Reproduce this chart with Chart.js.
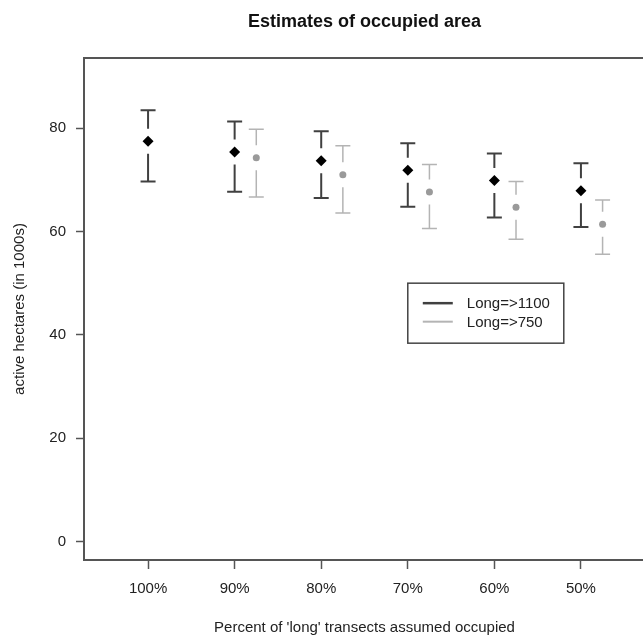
<!DOCTYPE html>
<html>
<head>
<meta charset="utf-8">
<script src="https://cdn.jsdelivr.net/npm/chart.js@4.4.1/dist/chart.umd.min.js"></script>
<style>
html,body{margin:0;padding:0;background:#fff;overflow:hidden;width:643px;height:637px}
#wrap{position:relative;width:660px;height:637px}
canvas{display:block}
</style>
</head>
<body>
<div id="wrap"><canvas id="c" width="660" height="637"></canvas></div>
<script>
// ---- data ----
const categories = ['100%', '90%', '80%', '70%', '60%', '50%'];
const seriesNames = ['Long=>1100', 'Long=>750'];
const mean1100  = [77.5, 75.4, 73.7, 71.85, 69.9, 67.9];
const upper1100 = [83.5, 81.3, 79.4, 77.1, 75.1, 73.2];
const lower1100 = [69.7, 67.7, 66.5, 64.8, 62.7, 60.9];
const mean750   = [null, 74.3, 71.0, 67.65, 64.7, 61.4];
const upper750  = [null, 79.8, 76.6, 73.0, 69.7, 66.1];
const lower750  = [null, 66.7, 63.6, 60.6, 58.5, 55.6];
const yTickValues = [0, 20, 40, 60, 80];
const xTickValues = [1, 2, 3, 4, 5, 6];
const titleText = 'Estimates of occupied area';
const xTitle = "Percent of 'long' transects assumed occupied";
const yTitle = 'active hectares (in 1000s)';

// ---- styling ----
const FONT = "'Liberation Sans', Arial, Helvetica, sans-serif";
Chart.defaults.font.family = FONT;
const dodge = 0.25;
const axisColor = '#555';
const textColor = '#222';
const series = [
  {name: seriesNames[0], mean: mean1100, up: upper1100, lo: lower1100, off: 0,
   barColor: '#404040', barWidth: 2, pointColor: '#000', style: 'rectRot', radius: 5.5, legW: 2.5},
  {name: seriesNames[1], mean: mean750, up: upper750, lo: lower750, off: dodge,
   barColor: '#b4b4b4', barWidth: 1.5, pointColor: '#9a9a9a', style: 'circle', radius: 3.5, legW: 2}
];

const datasets = series.map(s => ({
  label: s.name,
  data: s.mean.map((v, i) => v == null ? null : {x: i + 1 + s.off, y: v}).filter(p => p),
  pointStyle: s.style,
  pointRadius: s.radius,
  pointBackgroundColor: s.pointColor,
  pointBorderWidth: 0,
  showLine: false
}));

const decor = {
  id: 'decor',
  beforeDatasetsDraw(chart) {
    const {ctx, chartArea: a, scales: {x, y}} = chart;
    ctx.save();
    // box
    ctx.strokeStyle = axisColor;
    ctx.lineWidth = 2;
    ctx.strokeRect(a.left, a.top, a.right - a.left, a.bottom - a.top);
    // error bars with gap around the point
    const gap = 12.5, cap = 7.5;
    series.forEach(s => {
      ctx.strokeStyle = s.barColor;
      ctx.lineWidth = s.barWidth;
      s.mean.forEach((m, i) => {
        if (m == null) return;
        const px = x.getPixelForValue(i + 1 + s.off);
        const pm = y.getPixelForValue(m);
        const pu = y.getPixelForValue(s.up[i]);
        const pl = y.getPixelForValue(s.lo[i]);
        ctx.beginPath();
        if (pm - gap > pu) { ctx.moveTo(px, pu); ctx.lineTo(px, pm - gap); }
        if (pm + gap < pl) { ctx.moveTo(px, pm + gap); ctx.lineTo(px, pl); }
        ctx.moveTo(px - cap, pu); ctx.lineTo(px + cap, pu);
        ctx.moveTo(px - cap, pl); ctx.lineTo(px + cap, pl);
        ctx.stroke();
      });
    });
    ctx.restore();
  },
  afterDraw(chart) {
    const {ctx, scales: {x, y}} = chart;
    ctx.save();
    const lx = x.getPixelForValue(4), ly = y.getPixelForValue(50);
    const w = 156, h = 60;
    ctx.strokeStyle = '#444';
    ctx.lineWidth = 1.5;
    ctx.strokeRect(lx, ly, w, h);
    ctx.font = '15px ' + FONT;
    ctx.textBaseline = 'middle';
    ctx.textAlign = 'left';
    series.forEach((s, k) => {
      const yy = ly + 20 + k * 18.5;
      ctx.strokeStyle = s.barColor;
      ctx.lineWidth = s.legW;
      ctx.beginPath(); ctx.moveTo(lx + 15, yy); ctx.lineTo(lx + 45, yy); ctx.stroke();
      ctx.fillStyle = textColor;
      ctx.fillText(s.name, lx + 59, yy + 1);
    });
    ctx.restore();
  }
};

new Chart(document.getElementById('c'), {
  type: 'scatter',
  data: {datasets},
  plugins: [decor],
  options: {
    responsive: false,
    animation: false,
    events: [],
    devicePixelRatio: 1,
    layout: {padding: {left: 0, right: 15, top: 0, bottom: 0}},
    plugins: {
      legend: {display: false},
      tooltip: {enabled: false},
      title: {
        display: true, text: titleText, fullSize: false,
        color: '#111', font: {size: 18, weight: 'bold', family: FONT},
        padding: {top: 11, bottom: 25.4}
      }
    },
    scales: {
      x: {
        type: 'linear', min: 0.26, max: 6.74,
        afterFit(s) { s.height = 77; },
        afterBuildTicks(s) { s.ticks = xTickValues.map(v => ({value: v})); },
        ticks: {
          callback: v => categories[v - 1], color: textColor, font: {size: 15},
          padding: 11, autoSkip: false, maxRotation: 0
        },
        grid: {display: true, drawOnChartArea: false, drawTicks: true, tickLength: 9,
               tickColor: axisColor, tickWidth: 1.5},
        border: {display: false},
        title: {display: true, text: xTitle, color: textColor, font: {size: 15},
                padding: {top: 0, bottom: 0}}
      },
      y: {
        type: 'linear', min: -3.6, max: 93.6,
        afterFit(s) { s.width = 84; },
        afterBuildTicks(s) { s.ticks = yTickValues.map(v => ({value: v})); },
        ticks: {color: textColor, font: {size: 15}, padding: 10},
        grid: {display: true, drawOnChartArea: false, drawTicks: true, tickLength: 8,
               tickColor: axisColor, tickWidth: 1.5},
        border: {display: false},
        title: {display: true, text: yTitle, color: textColor, font: {size: 15},
                padding: {top: 11, bottom: 0}}
      }
    }
  }
});
</script>
</body>
</html>
